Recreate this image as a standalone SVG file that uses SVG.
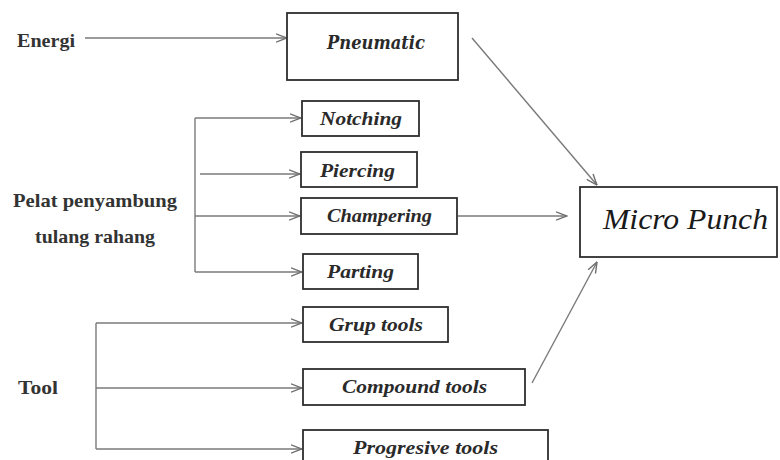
<svg xmlns="http://www.w3.org/2000/svg" width="780" height="460" viewBox="0 0 780 460">
  <defs>
    <marker id="arr" viewBox="0 0 12 10" refX="11.5" refY="5" markerWidth="12" markerHeight="10" markerUnits="userSpaceOnUse" orient="auto">
      <path d="M0.5,0.8 L11.5,5 L0.5,9.2" fill="none" stroke="#6f6f6f" stroke-width="1.4"/>
    </marker>
    <style>
      .box { fill: #ffffff; stroke: #2e2e2e; stroke-width: 1.8; }
      .ln { fill: none; stroke: #7a7a7a; stroke-width: 1.4; }
      .arr { marker-end: url(#arr); }
      .lbl { font-style: italic; font-size: 19px; fill: #2a2a2a; font-weight: bold; }
      .side { font-size: 19px; fill: #333333; font-weight: bold; }
      .big { font-style: italic; font-size: 30px; fill: #1a1a1a; }
    </style>
  </defs>
  <rect width="780" height="460" fill="#ffffff"/>

  <g id="connectors">
    <line class="ln arr" x1="85" y1="38" x2="287" y2="38"/>
    <line class="ln" x1="195" y1="118" x2="195" y2="272"/>
    <line class="ln arr" x1="195" y1="118" x2="301" y2="118"/>
    <line class="ln arr" x1="200" y1="174" x2="300" y2="174"/>
    <line class="ln arr" x1="195" y1="216" x2="300" y2="216"/>
    <line class="ln arr" x1="195" y1="272" x2="302" y2="272"/>
    <line class="ln" x1="96" y1="323" x2="96" y2="449"/>
    <line class="ln arr" x1="96" y1="323" x2="302" y2="323"/>
    <line class="ln arr" x1="96" y1="388" x2="302" y2="388"/>
    <line class="ln arr" x1="96" y1="449" x2="302" y2="449"/>
    <line class="ln arr" x1="458" y1="216" x2="567" y2="216"/>
    <line class="ln arr" x1="472" y1="38" x2="597" y2="185"/>
    <line class="ln arr" x1="532" y1="383" x2="597" y2="262"/>
  </g>

  <g id="energi"><text class="side" font-family="Liberation Serif, serif" x="17" y="47" textLength="58" lengthAdjust="spacingAndGlyphs">Energi</text></g>
  <g id="pelat">
    <text class="side" font-family="Liberation Serif, serif" x="13" y="207" textLength="164" lengthAdjust="spacingAndGlyphs">Pelat penyambung</text>
    <text class="side" font-family="Liberation Serif, serif" x="35" y="243" textLength="120" lengthAdjust="spacingAndGlyphs">tulang rahang</text>
  </g>
  <g id="tool"><text class="side" font-family="Liberation Serif, serif" x="18" y="394" textLength="40" lengthAdjust="spacingAndGlyphs">Tool</text></g>

  <g id="pneumatic">
    <rect class="box" x="287" y="13" width="171" height="67"/>
    <text class="lbl" font-family="DejaVu Serif, serif" x="327" y="49" textLength="98" lengthAdjust="spacingAndGlyphs">Pneumatic</text>
  </g>
  <g id="notching">
    <rect class="box" x="302" y="101" width="117" height="35"/>
    <text class="lbl" font-family="Liberation Serif, serif" x="320" y="125" textLength="82" lengthAdjust="spacingAndGlyphs">Notching</text>
  </g>
  <g id="piercing">
    <rect class="box" x="301" y="152" width="116" height="35"/>
    <text class="lbl" font-family="Liberation Serif, serif" x="320" y="177" textLength="75" lengthAdjust="spacingAndGlyphs">Piercing</text>
  </g>
  <g id="champering">
    <rect class="box" x="301" y="198" width="156" height="36"/>
    <text class="lbl" font-family="Liberation Serif, serif" x="327" y="222" textLength="105" lengthAdjust="spacingAndGlyphs">Champering</text>
  </g>
  <g id="parting">
    <rect class="box" x="303" y="254" width="115" height="35"/>
    <text class="lbl" font-family="Liberation Serif, serif" x="327" y="278" textLength="67" lengthAdjust="spacingAndGlyphs">Parting</text>
  </g>
  <g id="grup-tools">
    <rect class="box" x="303" y="307" width="145" height="35"/>
    <text class="lbl" font-family="Liberation Serif, serif" x="329" y="331" textLength="94" lengthAdjust="spacingAndGlyphs">Grup tools</text>
  </g>
  <g id="compound-tools">
    <rect class="box" x="303" y="369" width="222" height="36"/>
    <text class="lbl" font-family="Liberation Serif, serif" x="342" y="393" textLength="145" lengthAdjust="spacingAndGlyphs">Compound tools</text>
  </g>
  <g id="progresive-tools">
    <rect class="box" x="303" y="430" width="245" height="40"/>
    <text class="lbl" font-family="Liberation Serif, serif" x="353" y="454" textLength="145" lengthAdjust="spacingAndGlyphs">Progresive tools</text>
  </g>
  <g id="micro-punch">
    <rect class="box" x="580" y="187" width="197" height="70"/>
    <text class="big" font-family="Liberation Serif, serif" x="603" y="229" textLength="165" lengthAdjust="spacingAndGlyphs">Micro Punch</text>
  </g>
</svg>
